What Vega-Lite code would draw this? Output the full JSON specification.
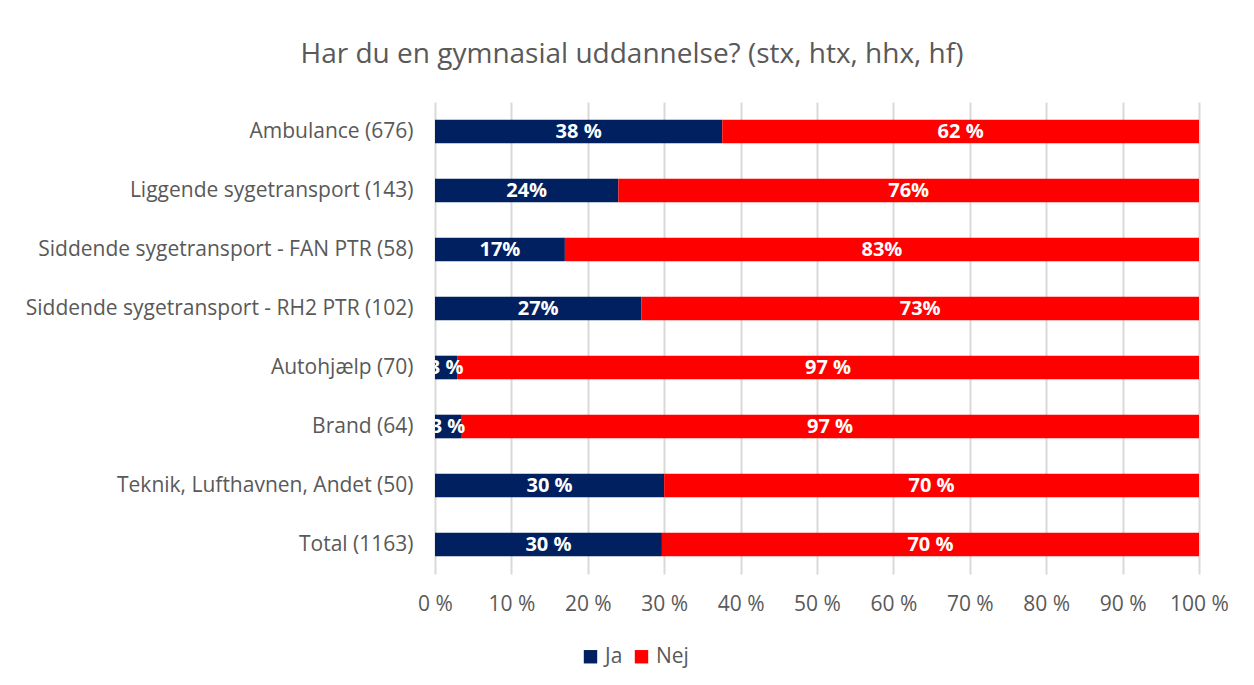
{
  "$schema": "https://vega.github.io/schema/vega-lite/v6.json",
  "autosize": {"type": "none"},
  "width": 764,
  "height": 472,
  "padding": {"left": 435, "top": 102, "right": 55, "bottom": 111},
  "background": "white",
  "title": {
    "text": "Har du en gymnasial uddannelse? (stx, htx, hhx, hf)",
    "font": "Open Sans",
    "fontSize": 28,
    "fontWeight": "normal",
    "color": "#595959",
    "anchor": "middle",
    "dx": -185,
    "offset": 33
  },
  "data": {
    "values": [
      {"category": "Ambulance (676)", "answer": "Ja", "order": 1, "value": 37.6, "label": "38 %"},
      {"category": "Ambulance (676)", "answer": "Nej", "order": 2, "value": 62.4, "label": "62 %"},
      {"category": "Liggende sygetransport (143)", "answer": "Ja", "order": 1, "value": 24, "label": "24%"},
      {"category": "Liggende sygetransport (143)", "answer": "Nej", "order": 2, "value": 76, "label": "76%"},
      {"category": "Siddende sygetransport - FAN PTR (58)", "answer": "Ja", "order": 1, "value": 17, "label": "17%"},
      {"category": "Siddende sygetransport - FAN PTR (58)", "answer": "Nej", "order": 2, "value": 83, "label": "83%"},
      {"category": "Siddende sygetransport - RH2 PTR (102)", "answer": "Ja", "order": 1, "value": 27, "label": "27%"},
      {"category": "Siddende sygetransport - RH2 PTR (102)", "answer": "Nej", "order": 2, "value": 73, "label": "73%"},
      {"category": "Autohjælp (70)", "answer": "Ja", "order": 1, "value": 2.9, "label": "3 %"},
      {"category": "Autohjælp (70)", "answer": "Nej", "order": 2, "value": 97.1, "label": "97 %"},
      {"category": "Brand (64)", "answer": "Ja", "order": 1, "value": 3.4, "label": "3 %"},
      {"category": "Brand (64)", "answer": "Nej", "order": 2, "value": 96.6, "label": "97 %"},
      {"category": "Teknik, Lufthavnen, Andet (50)", "answer": "Ja", "order": 1, "value": 30, "label": "30 %"},
      {"category": "Teknik, Lufthavnen, Andet (50)", "answer": "Nej", "order": 2, "value": 70, "label": "70 %"},
      {"category": "Total (1163)", "answer": "Ja", "order": 1, "value": 29.7, "label": "30 %"},
      {"category": "Total (1163)", "answer": "Nej", "order": 2, "value": 70.3, "label": "70 %"}
    ]
  },
  "transform": [
    {"stack": "value", "groupby": ["category"], "sort": [{"field": "order", "order": "ascending"}], "as": ["v0", "v1"]},
    {"calculate": "(datum.v0 + datum.v1) / 2", "as": "mid"}
  ],
  "encoding": {
    "y": {
      "field": "category",
      "type": "nominal",
      "sort": null,
      "title": null,
      "scale": {"paddingInner": 0.6, "paddingOuter": 0.3},
      "axis": {
        "domain": false,
        "ticks": false,
        "labelFont": "Open Sans",
        "labelFontSize": 21,
        "labelColor": "#595959",
        "labelPadding": 22,
        "labelLimit": 500
      }
    }
  },
  "layer": [
    {
      "mark": {"type": "bar"},
      "encoding": {
        "x": {
          "field": "v0",
          "type": "quantitative",
          "scale": {"domain": [0, 100], "nice": false},
          "title": null,
          "axis": {
            "values": [0, 10, 20, 30, 40, 50, 60, 70, 80, 90, 100],
            "labelExpr": "datum.value + ' %'",
            "labelFlush": false,
            "domain": false,
            "ticks": false,
            "grid": true,
            "gridColor": "#D9D9D9",
            "gridWidth": 2,
            "labelFont": "Open Sans",
            "labelFontSize": 21,
            "labelColor": "#595959",
            "labelPadding": 19
          }
        },
        "x2": {"field": "v1"},
        "color": {
          "field": "answer",
          "type": "nominal",
          "scale": {"domain": ["Ja", "Nej"], "range": ["#002060", "#FF0000"]},
          "legend": {
            "title": null,
            "orient": "none",
            "direction": "horizontal",
            "legendX": 145,
            "legendY": 544,
            "symbolType": "square",
            "symbolSize": 180,
            "symbolStrokeWidth": 0,
            "symbolOpacity": 1,
            "labelFont": "Open Sans",
            "labelFontSize": 21,
            "labelColor": "#595959",
            "labelOffset": 4,
            "columnPadding": 8
          }
        }
      }
    },
    {
      "mark": {"type": "text", "color": "white", "font": "Open Sans", "fontSize": 20, "fontWeight": "bold", "clip": true, "baseline": "middle", "align": "center"},
      "encoding": {
        "x": {"field": "mid", "type": "quantitative"},
        "text": {"field": "label"}
      }
    }
  ],
  "config": {
    "view": {"stroke": null}
  }
}
